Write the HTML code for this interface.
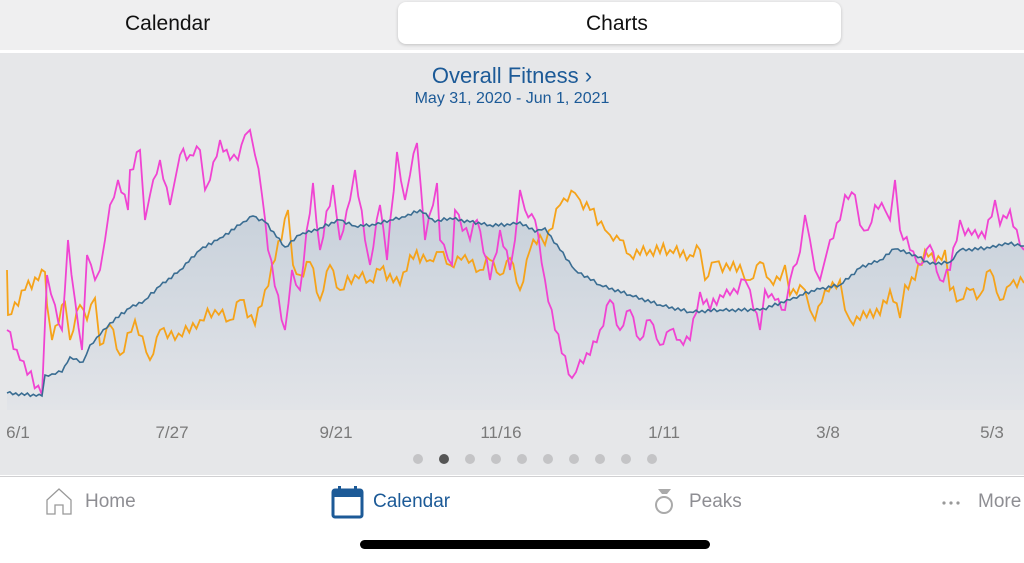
<!DOCTYPE html>
<html><head><meta charset="utf-8"><style>
body{margin:0;width:1024px;height:562px;overflow:hidden;font-family:"Liberation Sans",sans-serif;background:#fff;position:relative}
.top{position:absolute;left:0;top:0;width:1024px;height:50px;background:#efeff0}
.seg{position:absolute;left:398px;top:2px;width:443px;height:42px;background:#fff;border-radius:8px;box-shadow:0 1px 3px rgba(0,0,0,.2)}
.t{position:absolute;font-size:21px;color:#111}
.chart{position:absolute;left:0;top:53px;width:1024px;height:422px;background:#e6e7e9}
.tab{position:absolute;top:476px;left:0;width:1024px;height:86px;background:#fff;border-top:1px solid #d0d0d2}
.lbl{position:absolute;top:423px;font-size:17px;color:#7a7a7a;transform:translateX(-50%)}
.tl{position:absolute;top:491px;font-size:19px;color:#8e8e93}
</style></head><body>
<div class="top"><div class="seg"></div>
<div class="t" style="left:125px;top:12px">Calendar</div>
<div class="t" style="left:586px;top:12px">Charts</div></div>
<div class="chart"></div>
<div style="position:absolute;left:0;width:1024px;top:63px;text-align:center;font-size:22px;color:#1c5a97">Overall Fitness &#8250;</div>
<div style="position:absolute;left:0;width:1024px;top:90px;text-align:center;font-size:16px;color:#1c5a97">May 31, 2020 - Jun 1, 2021</div>
<svg id="sv" width="1024" height="562" style="position:absolute;left:0;top:0">
<defs><linearGradient id="g" x1="0" y1="0" x2="0" y2="1"><stop offset="0" stop-color="#c8d1db"/><stop offset="1" stop-color="#e2e4e8"/></linearGradient></defs>
<path id="fill" fill="url(#g)"/>
<polyline id="ob" fill="none" stroke="#f5a31a" stroke-width="1.8"/>
<polyline id="mb" fill="none" stroke="#f044d2" stroke-width="1.8"/>
<polyline id="bb" fill="none" stroke="#3a6d92" stroke-width="1.6"/>
</svg>
<div class="lbl" style="left:18px">6/1</div><div class="lbl" style="left:172px">7/27</div><div class="lbl" style="left:336px">9/21</div><div class="lbl" style="left:501px">11/16</div><div class="lbl" style="left:664px">1/11</div><div class="lbl" style="left:828px">3/8</div><div class="lbl" style="left:992px">5/3</div>
<div id="dots"></div>
<div class="tab"></div>
<svg width="1024" height="562" style="position:absolute;left:0;top:0">
<path d="M47 514 V500 L59 489 L71 500 V514 H63 V505 H55 V514 Z" fill="none" stroke="#999" stroke-width="1.3"/>
<rect x="333" y="490" width="29" height="27" rx="2" fill="none" stroke="#1c5a97" stroke-width="3"/>
<rect x="333" y="490" width="29" height="7" fill="#1c5a97"/>
<rect x="338" y="486" width="3" height="6" fill="#1c5a97"/><rect x="354" y="486" width="3" height="6" fill="#1c5a97"/>
<path d="M658 489 L662 494 L667 494 L671 489 Z" fill="#aaa"/>
<circle cx="664" cy="505" r="8" fill="none" stroke="#aaa" stroke-width="2"/>
<circle cx="944" cy="503" r="1.6" fill="#999"/><circle cx="951" cy="503" r="1.6" fill="#999"/><circle cx="958" cy="503" r="1.6" fill="#999"/>
<rect x="360" y="540" width="350" height="9" rx="4.5" fill="#000"/>
</svg>
<div class="tl" style="left:85px">Home</div>
<div class="tl" style="left:373px;color:#1c5a97">Calendar</div>
<div class="tl" style="left:689px">Peaks</div>
<div class="tl" style="left:978px">More</div>
<script>
var B=[[7,393],[42,396],[45,375],[52,374],[62,372],[70,357],[83,362],[90,345],[100,335],[110,323],[130,308],[145,300],[160,286],[180,270],[200,250],[220,238],[240,225],[253,216],[265,222],[285,247],[300,235],[320,228],[340,220],[355,226],[375,225],[390,220],[405,217],[420,210],[435,222],[450,218],[470,222],[490,225],[510,225],[520,222],[535,232],[545,228],[560,250],[575,270],[600,285],[630,295],[660,305],[690,312],[720,310],[760,310],[790,300],[800,295],[820,289],[840,285],[860,268],[880,260],[895,249],[915,255],[930,264],[950,262],[960,250],[990,248],[1005,243],[1024,246]];
var O=[[7,270],[8,315],[25,290],[45,272],[47,305],[52,340],[65,302],[70,340],[80,305],[87,320],[95,298],[100,345],[110,325],[120,355],[135,320],[150,360],[160,330],[175,340],[200,320],[215,310],[230,320],[240,300],[255,325],[265,290],[275,260],[288,210],[293,265],[300,275],[310,262],[320,300],[330,265],[340,290],[355,275],[370,280],[380,270],[400,285],[410,255],[430,260],[440,252],[450,265],[465,255],[480,270],[490,260],[500,275],[510,258],[520,290],[530,250],[540,235],[545,245],[560,205],[575,193],[580,200],[590,210],[605,230],[610,235],[620,240],[630,255],[650,250],[670,250],[690,255],[700,250],[705,280],[715,262],[730,270],[740,265],[745,280],[750,280],[760,262],[770,280],[780,280],[785,265],[790,295],[800,285],[805,290],[810,310],[815,320],[825,290],[840,280],[845,310],[850,320],[860,320],[870,310],[880,315],[890,290],[900,318],[905,285],[915,280],[925,250],[935,263],[945,250],[950,290],[960,300],[970,290],[980,295],[990,270],[1000,300],[1010,285],[1024,283]];
var M=[[7,330],[20,360],[42,395],[47,275],[55,305],[62,330],[68,240],[75,300],[82,350],[87,255],[95,280],[100,270],[105,240],[110,205],[118,180],[128,210],[130,170],[140,150],[145,220],[150,195],[160,160],[170,205],[175,180],[180,155],[190,155],[200,150],[205,190],[210,180],[220,140],[230,160],[238,160],[245,135],[250,130],[255,155],[262,195],[268,250],[285,330],[292,270],[300,290],[313,183],[320,250],[333,185],[340,240],[350,200],[355,170],[365,240],[370,265],[380,205],[387,260],[397,152],[405,200],[410,175],[417,143],[425,240],[437,183],[440,240],[452,265],[455,210],[470,240],[477,220],[490,280],[500,230],[510,270],[515,240],[520,190],[525,210],[535,220],[545,280],[555,330],[572,378],[580,360],[590,355],[600,330],[610,300],[620,330],[630,310],[640,340],[650,320],[660,345],[670,330],[680,340],[690,340],[700,292],[710,310],[720,295],[730,295],[745,280],[750,290],[760,330],[765,290],[775,300],[785,310],[790,280],[800,252],[805,215],[810,240],[815,270],[820,280],[825,260],[830,240],[840,220],[845,195],[855,195],[860,225],[868,230],[875,205],[885,210],[890,220],[895,180],[900,230],[910,250],[920,265],[930,245],[940,280],[950,270],[960,220],[965,235],[975,230],[985,238],[995,200],[1000,225],[1010,210],[1020,245],[1024,250]];
function dense(K,step,amp){var r=[],i=0,s=1;for(var k=0;k<K.length-1;k++){var a=K[k],b=K[k+1];var n=Math.max(1,Math.round((b[0]-a[0])/step));for(var j=0;j<n;j++){var t=j/n;var x=a[0]+(b[0]-a[0])*t,y=a[1]+(b[1]-a[1])*t;if(j>0)y+=s*amp*(0.5+((i*37)%10)/10);s=-s;i++;r.push([x,y]);}}r.push(K[K.length-1]);return r;}
function str(P){return P.map(function(p){return p[0].toFixed(1)+','+p[1].toFixed(1)}).join(' ');}
var b=dense(B,3,1.2),o=dense(O,3.5,4.5),m=dense(M,3.5,4.5);
document.getElementById('bb').setAttribute('points',str(b));
document.getElementById('ob').setAttribute('points',str(o));
document.getElementById('mb').setAttribute('points',str(m));
document.getElementById('fill').setAttribute('d','M'+str(b).replace(/ /g,' L')+' L1024,410 L7,410 Z');
var h='';for(var i=0;i<10;i++)h+='<div style="position:absolute;top:454px;left:'+(413+i*26)+'px;width:10px;height:10px;border-radius:5px;background:'+(i==1?'#555':'#c4c4c6')+'"></div>';
document.getElementById('dots').innerHTML=h;
</script>
</body></html>
